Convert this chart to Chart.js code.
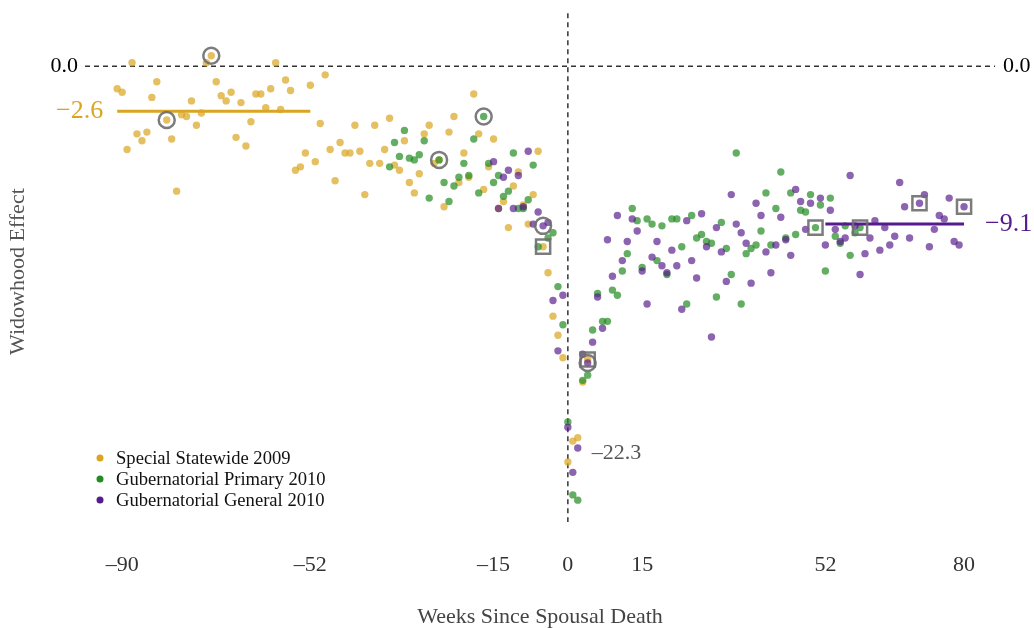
<!DOCTYPE html>
<html>
<head>
<meta charset="utf-8">
<script src="https://cdn.jsdelivr.net/npm/chart.js@4.4.1/dist/chart.umd.min.js"></script>
<style>
  body { margin: 0; background: #fff; }
  #chart { display: block; }
</style>
</head>
<body>
<canvas id="chart" width="1034" height="628"></canvas>
<script>
// weeks since spousal death, one point per week
var statewideWeeks = [-91,-90,-89,-88,-87,-86,-85,-84,-83,-81,-80,-79,-78,-77,-76,-75,-74,-73,-72,-71,-70,-69,-68,-67,-66,-65,-64,-63,-62,-61,-60,-59,-58,-57,-56,-55,-54,-53,-52,-51,-50,-49,-48,-47,-46,-45,-44,-43,-42,-41,-40,-39,-38,-37,-36,-35,-34,-33,-32,-31,-30,-29,-28,-27,-26,-25,-24,-23,-22,-21,-20,-19,-18,-17,-16,-15,-14,-13,-12,-11,-10,-9,-8,-7,-6,-5,-4,-3,-2,-1,0,1,2,3,4];
var statewideVals = [-1.3,-1.5,-4.8,0.2,-3.9,-4.3,-3.8,-1.8,-0.9,-3.1,-4.2,-7.2,-2.8,-2.9,-2.0,-3.4,-2.7,0.2,0.6,-0.9,-1.7,-2.0,-1.5,-4.1,-2.1,-4.6,-3.2,-1.6,-1.6,-2.4,-1.3,0.2,-2.5,-0.8,-1.4,-6.0,-5.8,-5.0,-1.1,-5.5,-3.3,-0.5,-4.8,-6.6,-4.4,-5.0,-5.0,-3.4,-4.9,-7.4,-5.6,-3.4,-5.6,-4.8,-3.0,-5.7,-6.0,-4.3,-6.7,-7.3,-6.2,-3.9,-3.4,-5.6,-5.4,-8.1,-3.8,-2.9,-6.7,-5.0,-6.4,-1.6,-3.9,-7.1,-5.8,-4.2,-8.2,-7.8,-9.3,-6.9,-6.1,-8.0,-9.1,-7.4,-4.9,-10.4,-11.9,-14.4,-15.5,-16.8,-22.8,-21.6,-21.4,-18.2,-16.9];

var primaryWeeks = [-36,-35,-34,-33,-32,-31,-30,-29,-28,-26,-25,-24,-23,-22,-21,-20,-19,-18,-17,-16,-15,-14,-13,-12,-11,-10,-9,-8,-7,-6,-4,-3,-2,-1,0,1,2,3,4,5,6,7,8,9,10,11,12,13,14,15,16,17,18,19,20,21,22,23,24,25,26,27,28,29,30,31,32,33,34,35,36,37,38,39,40,41,42,43,44,45,46,47,48,49,50,51,52,53,54,55,56,57,58,59];
var primaryVals = [-5.8,-4.4,-5.2,-3.7,-5.3,-5.4,-5.1,-4.3,-7.6,-5.4,-6.7,-7.8,-6.9,-6.4,-5.6,-6.3,-4.2,-7.3,-2.9,-5.6,-6.7,-6.3,-7.5,-7.2,-5.0,-8.2,-8.2,-7.7,-5.7,-10.4,-9.9,-9.6,-12.7,-14.9,-20.5,-24.7,-25.0,-18.1,-17.8,-15.2,-13.1,-14.7,-14.7,-12.9,-13.2,-11.8,-10.8,-8.2,-8.9,-11.6,-8.8,-9.1,-11.2,-9.2,-12.0,-8.8,-8.8,-10.4,-13.7,-8.6,-9.9,-9.7,-10.1,-10.2,-13.3,-9.0,-10.5,-12.0,-5.0,-13.7,-10.8,-10.5,-10.3,-9.5,-7.3,-10.3,-8.2,-6.1,-9.9,-7.3,-9.7,-8.3,-8.4,-7.4,-9.3,-8.0,-11.8,-7.6,-9.8,-10.2,-9.2,-10.9,-9.6,-9.3];

var generalWeeks = [-15,-14,-13,-12,-11,-10,-9,-8,-7,-6,-5,-4,-3,-2,-1,0,1,2,3,4,5,6,7,8,9,10,11,12,13,14,15,16,17,18,19,20,21,22,23,24,25,26,27,28,29,30,31,32,33,34,35,36,37,38,39,40,41,42,43,44,45,46,47,48,49,51,52,53,54,55,56,57,58,59,60,61,62,63,64,65,66,67,68,69,71,72,73,74,75,76,77,78,79,80];
var generalVals = [-5.5,-8.2,-6.4,-6.0,-8.2,-6.3,-8.1,-4.9,-9.1,-8.4,-9.2,-9.0,-13.5,-16.4,-13.2,-20.8,-23.4,-22.0,-16.6,-17.1,-15.9,-13.3,-15.1,-10.0,-12.1,-8.6,-11.2,-10.1,-8.8,-9.5,-11.8,-13.7,-11.0,-10.1,-11.5,-11.9,-10.6,-11.5,-14.0,-8.9,-11.2,-12.2,-8.5,-10.4,-15.6,-9.3,-10.7,-12.4,-7.4,-9.1,-9.6,-10.2,-12.5,-7.9,-8.6,-10.7,-11.9,-10.3,-8.7,-10.0,-10.9,-7.1,-7.8,-9.4,-7.9,-7.6,-10.3,-8.3,-9.4,-10.1,-9.9,-6.3,-9.2,-12.0,-10.8,-9.9,-8.9,-10.6,-9.3,-10.3,-9.8,-6.7,-8.1,-9.9,-7.9,-7.4,-10.4,-9.4,-8.6,-8.8,-7.6,-10.1,-10.3,-8.1];

// election weeks: circled before the election, boxed after
var statewideCircled = [-81,-72], statewideBoxed = [-5,4];
var primaryCircled = [-26,-17], primaryBoxed = [50,59];
var generalCircled = [-5,4], generalBoxed = [71,80];

var preMean = -2.6, preRange = [-91,-52];
var postMean = -9.1, postRange = [52,80];
var dropLabel = -22.3;

var xTicks = [-90,-52,-15,0,15,52,80];
var seriesNames = ['Special Statewide 2009','Gubernatorial Primary 2010','Gubernatorial General 2010'];
var seriesColors = ['#DAA520','#228B22','#551A8B'];
var pointColors = ['rgba(218,165,32,0.7)','rgba(34,139,34,0.7)','rgba(85,26,139,0.68)'];

var serif = "'Liberation Serif', 'DejaVu Serif', serif";

function pts(weeks, vals) {
   return weeks.map(function(w, i){ return {x: w, y: vals[i]}; });
}
function pick(weeks, vals, list) {
   return list.map(function(w){ return {x: w, y: vals[weeks.indexOf(w)]}; });
}
function minus(v) {
   return v < 0 ? '\u2013' + Math.abs(v) : String(v);
}

var circled = [].concat(pick(statewideWeeks, statewideVals, statewideCircled),
                        pick(primaryWeeks, primaryVals, primaryCircled),
                        pick(generalWeeks, generalVals, generalCircled));
var boxed = [].concat(pick(statewideWeeks, statewideVals, statewideBoxed),
                      pick(primaryWeeks, primaryVals, primaryBoxed),
                      pick(generalWeeks, generalVals, generalBoxed));

var extras = {
   id: 'extras',
   beforeDatasetsDraw: function(chart) {
      var ctx = chart.ctx, a = chart.chartArea;
      var x = chart.scales.x, y = chart.scales.y;
      ctx.save();
      ctx.strokeStyle = '#333';
      ctx.lineWidth = 1.5;
      ctx.setLineDash([5, 4]);
      ctx.beginPath();
      ctx.moveTo(a.left, y.getPixelForValue(0));
      ctx.lineTo(a.right, y.getPixelForValue(0));
      // vertical line reaches a little above the plotting area
      ctx.moveTo(x.getPixelForValue(0), y.getPixelForValue(3.05));
      ctx.lineTo(x.getPixelForValue(0), a.bottom);
      ctx.stroke();
      ctx.restore();
   },
   afterDraw: function(chart) {
      var ctx = chart.ctx;
      var x = chart.scales.x, y = chart.scales.y;
      ctx.save();
      ctx.textBaseline = 'middle';
      ctx.font = '26px ' + serif;
      ctx.textAlign = 'right';
      ctx.fillStyle = seriesColors[0];
      ctx.fillText('\u2212' + Math.abs(preMean), x.getPixelForValue(preRange[0]) - 14, y.getPixelForValue(preMean));
      ctx.textAlign = 'left';
      ctx.fillStyle = seriesColors[2];
      ctx.fillText('\u2212' + Math.abs(postMean), x.getPixelForValue(postRange[1]) + 21, y.getPixelForValue(postMean));
      ctx.font = '22px ' + serif;
      ctx.fillStyle = '#555';
      ctx.fillText(minus(dropLabel), x.getPixelForValue(0) + 24, y.getPixelForValue(dropLabel));

      // legend
      ctx.font = '18.6px ' + serif;
      for (var i = 0; i < seriesNames.length; i++) {
         var ly = 458 + i * 21;
         ctx.fillStyle = seriesColors[i];
         ctx.beginPath();
         ctx.arc(100, ly, 3.5, 0, Math.PI * 2);
         ctx.fill();
         ctx.fillStyle = '#111';
         ctx.fillText(seriesNames[i], 116, ly + 1);
      }
      ctx.restore();
   }
};

function scatterSet(label, data, color, order) {
   return {
      type: 'scatter', label: label, data: data,
      backgroundColor: color, borderWidth: 0,
      pointRadius: 3.7, order: order
   };
}

var chart = new Chart(document.getElementById('chart').getContext('2d'), {
   data: {
      datasets: [
         {type: 'scatter', label: 'circled', data: circled, pointStyle: 'circle', pointRadius: 8,
          backgroundColor: 'rgba(0,0,0,0)', borderColor: 'rgba(110,110,110,0.9)', borderWidth: 2.5, order: 0},
         {type: 'scatter', label: 'boxed', data: boxed, pointStyle: 'rect', pointRadius: 10,
          backgroundColor: 'rgba(0,0,0,0)', borderColor: 'rgba(110,110,110,0.9)', borderWidth: 2.5, order: 1},
         {type: 'line', label: 'pre', data: [{x: preRange[0], y: preMean}, {x: preRange[1], y: preMean}],
          borderColor: seriesColors[0], borderWidth: 3, pointRadius: 0, order: 2},
         {type: 'line', label: 'post', data: [{x: postRange[0], y: postMean}, {x: postRange[1], y: postMean}],
          borderColor: seriesColors[2], borderWidth: 3, pointRadius: 0, order: 2},
         scatterSet(seriesNames[2], pts(generalWeeks, generalVals), pointColors[2], 3),
         scatterSet(seriesNames[1], pts(primaryWeeks, primaryVals), pointColors[1], 4),
         scatterSet(seriesNames[0], pts(statewideWeeks, statewideVals), pointColors[0], 5)
      ]
   },
   options: {
      responsive: false,
      animation: false,
      events: [],
      devicePixelRatio: 1,
      layout: { padding: { top: 4, left: 0, right: 0, bottom: 0 } },
      plugins: {
         legend: { display: false },
         tooltip: { enabled: false }
      },
      scales: {
         x: {
            type: 'linear', position: 'bottom', min: -97.5, max: 86.25,
            grid: { display: false, drawTicks: false },
            border: { display: false },
            afterBuildTicks: function(s){ s.ticks = xTicks.map(function(v){ return {value: v}; }); },
            afterFit: function(s){ s.height = 106; },
            ticks: { padding: 30, color: '#333', font: { family: serif, size: 22 }, callback: minus },
            title: { display: true, text: 'Weeks Since Spousal Death', color: '#444',
                     font: { family: serif, size: 22 }, padding: { top: 0, bottom: -2 } }
         },
         y: {
            type: 'linear', position: 'left', min: -26.26, max: 2.59,
            grid: { display: false, drawTicks: false },
            border: { display: false },
            afterBuildTicks: function(s){ s.ticks = [{value: 0}]; },
            afterFit: function(s){ s.width = 85; },
            ticks: { padding: 7, color: '#000', font: { family: serif, size: 22 }, callback: function(){ return '0.0'; } },
            title: { display: true, text: 'Widowhood Effect', color: '#555',
                     font: { family: serif, size: 22 }, padding: { top: 5, bottom: 0 } }
         },
         y2: {
            type: 'linear', position: 'right', min: -26.26, max: 2.59,
            grid: { display: false, drawTicks: false },
            border: { display: false },
            afterBuildTicks: function(s){ s.ticks = [{value: 0}]; },
            afterFit: function(s){ s.width = 39; },
            ticks: { padding: 8, color: '#000', font: { family: serif, size: 22 }, callback: function(){ return '0.0'; } }
         }
      }
   },
   plugins: [extras]
});
</script>
</body>
</html>
